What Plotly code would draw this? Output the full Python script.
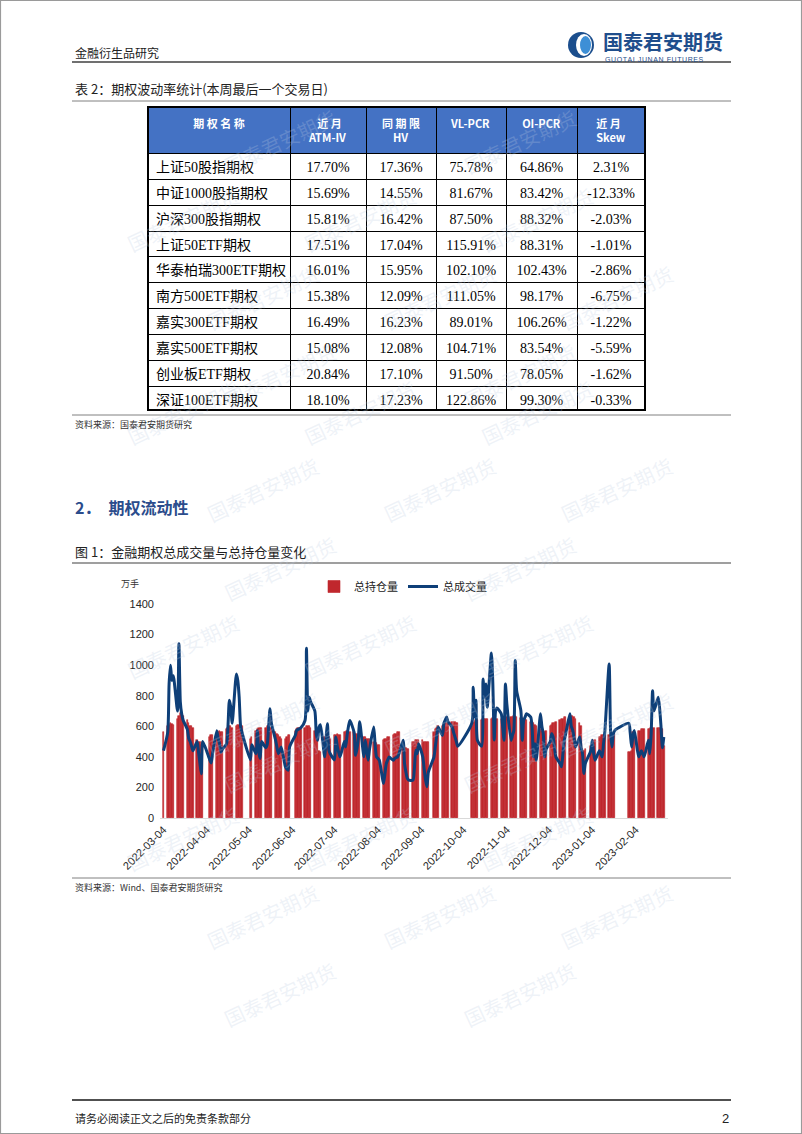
import plotly.graph_objects as go
import pandas as pd

W, H = 802, 1134


def px(x):
    return x / W


def py(y):
    return 1 - y / H


# ---------------- Table data ----------------
table_header = ["期 权 名 称", "\u2002\u2005近 月<br>ATM-IV", "同 期 限<br>\u2002\u2002HV", "VL-PCR", "OI-PCR", "近 月<br>Skew"]
option_names = ["上证50股指期权", "中证1000股指期权", "沪深300股指期权", "上证50ETF期权",
                "华泰柏瑞300ETF期权", "南方500ETF期权", "嘉实300ETF期权", "嘉实500ETF期权",
                "创业板ETF期权", "深证100ETF期权"]
atm_iv = ["17.70%", "15.69%", "15.81%", "17.51%", "16.01%", "15.38%", "16.49%", "15.08%", "20.84%", "18.10%"]
hv = ["17.36%", "14.55%", "16.42%", "17.04%", "15.95%", "12.09%", "16.23%", "12.08%", "17.10%", "17.23%"]
vl_pcr = ["75.78%", "81.67%", "87.50%", "115.91%", "102.10%", "111.05%", "89.01%", "104.71%", "91.50%", "122.86%"]
oi_pcr = ["64.86%", "83.42%", "88.32%", "88.31%", "102.43%", "98.17%", "106.26%", "83.54%", "78.05%", "99.30%"]
skew = ["2.31%", "-12.33%", "-2.03%", "-1.01%", "-2.86%", "-6.75%", "-1.22%", "-5.59%", "-1.62%", "-0.33%"]

# ---------------- Chart data (万手), weekly groups of trading days ----------------
holidays = ["2022-04-04", "2022-04-05", "2022-05-02", "2022-05-03", "2022-05-04", "2022-06-03",
            "2022-09-12", "2022-10-03", "2022-10-04", "2022-10-05", "2022-10-06", "2022-10-07",
            "2023-01-02", "2023-01-23", "2023-01-24", "2023-01-25", "2023-01-26", "2023-01-27"]
trade_dates = pd.bdate_range("2022-03-04", "2023-02-24", freq="C", holidays=holidays)

volume_weeks = [
    [440],
    [560, 880, 1000, 900, 930],
    [700, 1140, 760, 680, 640],
    [580, 520, 500, 470, 440],
    [500, 430, 356, 290, 500],
    [380, 360, 420],
    [570, 520, 486, 430, 450],
    [486, 600, 770, 725, 620],
    [942, 900, 790, 600, 560],
    [380, 480],
    [420, 570, 430, 390, 500],
    [460, 480, 600, 714, 620],
    [508, 460, 421, 440, 465],
    [335, 320, 313, 465],
    [540, 573, 580, 584, 590],
    [638, 1110, 700, 790, 760],
    [700, 551, 508, 595, 610],
    [400, 520, 617, 443, 420],
    [380, 530, 470, 430, 400],
    [500, 465, 540, 600, 638],
    [560, 410, 450, 520, 630],
    [400, 508, 440, 378, 450],
    [595, 480, 400, 390, 378],
    [226, 290, 356, 380, 400],
    [378, 390, 395, 400, 420],
    [508, 356, 300, 260, 248],
    [248, 320, 443, 420, 486],
    [400, 320, 248, 204, 300],
    [400, 470, 540, 595],
    [540, 617, 640, 660, 630],
    [595, 560, 530, 500, 470],
    [620, 855, 660, 770, 508],
    [470, 910, 790, 877, 725],
    [1080, 880, 510, 700, 720],
    [682, 600, 508, 877, 747],
    [508, 540, 573, 1030, 833],
    [703, 508, 638, 660, 682],
    [660, 595, 400, 486, 378],
    [682, 600, 551, 400, 450],
    [500, 551, 530, 460, 400],
    [356, 335, 420, 508, 550],
    [682, 600, 573, 520, 465],
    [530, 460, 421, 291, 356],
    [443, 508, 420, 378],
    [440, 420, 400, 486, 573],
    [1007, 573, 465, 551, 573],
    [620, 560, 465, 540, 573],
    [400, 420, 440, 420, 400],
    [508, 420, 551, 833, 700],
    [790, 720, 600, 460, 530],
]

oi_weeks = [
    [560],
    [600, 610, 620, 615, 610],
    [650, 670, 690, 680, 670],
    [640, 620, 600, 600, 590],
    [510, 500, 500, 480, 500],
    [530, 540, 540],
    [550, 560, 570, 560, 560],
    [580, 590, 600, 600, 590],
    [600, 610, 610, 600, 600],
    [520, 530],
    [570, 580, 590, 590, 590],
    [590, 600, 600, 590, 590],
    [560, 550, 540, 530, 520],
    [520, 530, 540, 540],
    [570, 580, 590, 590, 590],
    [590, 600, 600, 600, 590],
    [570, 560, 550, 440, 430],
    [530, 530, 540, 530, 520],
    [540, 540, 550, 540, 540],
    [560, 560, 570, 560, 560],
    [560, 550, 550, 540, 540],
    [530, 530, 520, 520, 520],
    [500, 490, 490, 480, 480],
    [510, 520, 520, 530, 530],
    [540, 550, 550, 560, 560],
    [480, 470, 460, 450, 450],
    [500, 500, 510, 510, 510],
    [510, 500, 500, 500, 500],
    [560, 580, 590, 600],
    [600, 610, 620, 620, 620],
    [630, 630, 630, 620, 620],
    [600, 620, 630, 640, 640],
    [640, 650, 650, 650, 650],
    [650, 655, 655, 650, 650],
    [650, 660, 660, 660, 660],
    [660, 660, 665, 665, 660],
    [655, 655, 650, 650, 640],
    [630, 625, 620, 610, 600],
    [580, 570, 560, 560, 570],
    [600, 610, 620, 620, 630],
    [640, 650, 650, 660, 660],
    [660, 665, 670, 660, 650],
    [620, 600, 450, 440, 450],
    [470, 480, 500, 510],
    [530, 530, 540, 540, 540],
    [540, 540, 550, 550, 550],
    [430, 430, 440, 560, 570],
    [570, 570, 580, 580, 580],
    [585, 585, 590, 590, 590],
    [590, 590, 590, 580, 470],
]

total_volume = [v for wk in volume_weeks for v in wk]
total_oi = [v for wk in oi_weeks for v in wk]
assert len(total_volume) == len(trade_dates) == len(total_oi)

x_tick_vals = ["2022-03-04", "2022-04-04", "2022-05-04", "2022-06-04", "2022-07-04", "2022-08-04",
               "2022-09-04", "2022-10-04", "2022-11-04", "2022-12-04", "2023-01-04", "2023-02-04"]
y_tick_vals = [0, 200, 400, 600, 800, 1000, 1200, 1400]

CJK = "Noto Sans CJK SC"
BAR_RED = "#C0272D"
fig = go.Figure()

# ---------------- chart traces ----------------
fig.add_trace(go.Bar(x=trade_dates, y=total_oi, name="总持仓量",
                     marker=dict(color=BAR_RED, line=dict(width=0.6, color=BAR_RED))))
fig.add_trace(go.Scatter(x=trade_dates, y=total_volume, name="总成交量", mode="lines",
                         line=dict(color="#0E3F78", width=3, shape="spline", smoothing=0.6)))

# ---------------- table ----------------
fig.add_trace(go.Table(
    domain=dict(x=[px(148), px(645)], y=[py(411), py(107)]),
    columnwidth=[142, 76, 70, 70, 71, 68],
    header=dict(values=[f"<b>{h}</b>" for h in table_header],
                fill_color="#4472C4", line=dict(color="black", width=1),
                font=dict(color="white", size=11, family=CJK), align="center", height=44),
    cells=dict(values=[option_names, atm_iv, hv, vl_pcr, oi_pcr, skew],
               fill_color="white", line=dict(color="black", width=1),
               font=dict(color="black", size=14, family="Liberation Serif, " + CJK),
               align=["left", "center", "center", "center", "center", "center"], height=25.9),
))

# ---------------- texts ----------------
ann = []


def text(x, y, s, size, color="#222222", anchor="left", bold=False, family=CJK, **kw):
    ann.append(dict(x=px(x), y=py(y), xref="paper", yref="paper", text=f"<b>{s}</b>" if bold else s,
                    showarrow=False, xanchor=anchor, yanchor="middle",
                    font=dict(size=size, color=color, family=family), **kw))


# watermarks (kept fully inside the page)
for j in range(13):
    yy = 100 + j * 78
    off = (j % 3) * 80
    for i in range(-1, 5):
        xx = 40 + off + i * 240
        if 75 <= xx <= 727:
            ann.append(dict(x=px(xx), y=py(yy), xref="paper", yref="paper", text="国泰君安期货",
                            showarrow=False, textangle=-25,
                            font=dict(size=20, color="rgba(190,204,224,0.25)", family=CJK)))

text(73, 53, "金融衍生品研究", 12, "#222222")
text(601, 42, "国泰君安期货", 20, "#1F4E8C", bold=True)
text(603, 59, "\u200a".join("GUOTAI JUNAN FUTURES"), 7, "#1F4E8C", family="Liberation Sans")
text(73, 89, "表 2：期权波动率统计(本周最后一个交易日)", 13, "#222222")
text(73, 425, "资料来源：国泰君安期货研究", 9, "#333333")
text(73, 507, "2．\u2002期权流动性", 16, "#2B4C8C", bold=True)
text(73, 551, "图 1：金融期权总成交量与总持仓量变化", 13, "#222222")
text(119, 583, "万手", 9, "#333333")
text(73, 887, "资料来源：Wind、国泰君安期货研究", 9, "#333333")
text(73, 1118, "请务必阅读正文之后的免责条款部分", 11, "#222222")
text(731, 1118, "2", 13, "#222222", anchor="right", family="Liberation Sans")

# ---------------- shapes ----------------
shapes = []


def hline(y, x0=72, x1=731, color="#595959", width=1):
    shapes.append(dict(type="line", xref="paper", yref="paper", x0=px(x0), x1=px(x1),
                       y0=py(y), y1=py(y), line=dict(color=color, width=width)))


hline(62, color="#404040", width=1.5)
hline(101, color="#808080", width=1)
hline(415, color="#808080", width=1)
hline(563, color="#404040", width=1.2)
hline(878, color="#808080", width=1)
hline(1100, color="#505050", width=2)
# page border
shapes.append(dict(type="rect", xref="paper", yref="paper", x0=0.0006, x1=0.9994, y0=0.0004, y1=0.9996,
                   line=dict(color="#9A9A9A", width=1.2)))
# table outer border
shapes.append(dict(type="rect", xref="paper", yref="paper", x0=px(148), x1=px(645), y0=py(410), y1=py(107),
                   line=dict(color="black", width=2)))
# logo
shapes.append(dict(type="circle", xref="paper", yref="paper", x0=px(568), x1=px(594), y0=py(58), y1=py(32),
                   fillcolor="#1B4E8D", line=dict(width=0)))
shapes.append(dict(type="circle", xref="paper", yref="paper", x0=px(576), x1=px(592), y0=py(56), y1=py(34),
                   fillcolor="white", line=dict(width=0)))
shapes.append(dict(type="circle", xref="paper", yref="paper", x0=px(580), x1=px(591), y0=py(54), y1=py(36),
                   fillcolor="#3D8FD6", line=dict(width=0)))

fig.update_layout(
    width=W, height=H, margin=dict(l=0, r=0, t=0, b=0, autoexpand=False),
    paper_bgcolor="white", plot_bgcolor="rgba(0,0,0,0)",
    bargap=0, showlegend=True,
    legend=dict(orientation="h", x=px(314), y=py(572), xanchor="left", yanchor="top",
                font=dict(size=11, family=CJK, color="#222222"), bgcolor="rgba(0,0,0,0)",
                itemwidth=30, traceorder="normal"),
    xaxis=dict(domain=[px(160), px(668)], anchor="y", type="date",
               range=["2022-03-01 12:00", "2023-02-27"],
               tickvals=x_tick_vals, ticktext=x_tick_vals, tickangle=-45,
               tickfont=dict(size=11, family="Liberation Sans", color="#262626"),
               showgrid=False, zeroline=False, showline=True, linecolor="#D9D9D9", ticks="",
               automargin=False),
    yaxis=dict(domain=[py(818), py(604)], anchor="x", range=[0, 1400], tickvals=y_tick_vals,
               tickfont=dict(size=11, family="Liberation Sans", color="#262626"),
               showgrid=False, zeroline=False, showline=False, ticks="", automargin=False,
               ticklabelstandoff=5),
    annotations=ann, shapes=shapes,
)

fig.write_html("out.html", config={"displayModeBar": False},
               post_script="document.body.style.margin='0';document.body.style.overflow='hidden';")
